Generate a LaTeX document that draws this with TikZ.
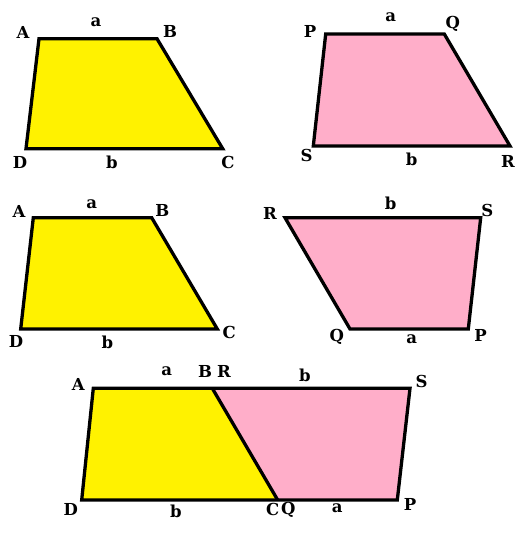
\documentclass[tikz,border=0pt]{standalone}
\usepackage{fontspec}
\setmainfont{DejaVu Serif}
\begin{document}
\begin{tikzpicture}[x=1pt,y=-1pt,
  edge/.style={draw=black,line width=3.3pt,line join=miter},
  yel/.style={fill=yellowfill},
  pnk/.style={fill=pinkfill},
  lbl/.style={font=\fontsize{16.5}{19}\selectfont\bfseries,inner sep=0pt}]
\definecolor{yellowfill}{RGB}{255,242,0}
\definecolor{pinkfill}{RGB}{255,174,201}
\useasboundingbox (0,0) rectangle (525,539);
% ---- top left
\coordinate (A1) at (39,38.7);
\coordinate (B1) at (157,38.7);
\coordinate (C1) at (222.7,148.7);
\coordinate (D1) at (26,148.7);
\draw[edge,yel] (A1) -- (B1) -- (C1) -- (D1) -- cycle;
\node[lbl] (lA1) at (23,32) {A};
\node[lbl] (la1) at (96,22) {a};
\node[lbl] (lB1) at (170,31) {B};
\node[lbl] (lD1) at (20,162) {D};
\node[lbl] (lb1) at (112,162) {b};
\node[lbl] (lC1) at (228,162) {C};
% ---- top right
\coordinate (P1) at (325.7,34);
\coordinate (Q1) at (444.3,34);
\coordinate (R1) at (510,146);
\coordinate (S1) at (313.3,146);
\draw[edge,pnk] (P1) -- (Q1) -- (R1) -- (S1) -- cycle;
\node[lbl] (lP1) at (310,31) {P};
\node[lbl] (la2) at (390.7,17) {a};
\node[lbl] (lQ1) at (452.7,24) {Q};
\node[lbl] (lS1) at (306.7,155) {S};
\node[lbl] (lb2) at (411.7,159) {b};
\node[lbl] (lR1) at (508,161) {R};
% ---- middle left
\coordinate (A2) at (33.3,217.7);
\coordinate (B2) at (151.7,217.7);
\coordinate (C2) at (217.3,329);
\coordinate (D2) at (20.7,329);
\draw[edge,yel] (A2) -- (B2) -- (C2) -- (D2) -- cycle;
\node[lbl] (lA2) at (19,211) {A};
\node[lbl] (la3) at (91.7,204) {a};
\node[lbl] (lB2) at (162.3,210) {B};
\node[lbl] (lD2) at (16,341) {D};
\node[lbl] (lb3) at (107.3,342) {b};
\node[lbl] (lC2) at (229.3,332) {C};
% ---- middle right
\coordinate (R2) at (285,217.7);
\coordinate (S2) at (480.7,217.7);
\coordinate (P2) at (468.3,329);
\coordinate (Q2) at (350,329);
\draw[edge,pnk] (R2) -- (S2) -- (P2) -- (Q2) -- cycle;
\node[lbl] (lR2) at (270,213) {R};
\node[lbl] (lb4) at (390.7,203) {b};
\node[lbl] (lS2) at (487.3,210.7) {S};
\node[lbl] (lQ2) at (336.7,336.7) {Q};
\node[lbl] (la4) at (411.7,339) {a};
\node[lbl] (lP2) at (480.7,335) {P};
% ---- bottom combined
\coordinate (A3) at (93.3,388.3);
\coordinate (B3) at (212.3,388.3);
\coordinate (S3) at (410,388.3);
\coordinate (P3) at (397.3,500);
\coordinate (C3) at (277.7,500);
\coordinate (D3) at (81.7,500);
\fill[yel] (A3) -- (B3) -- (C3) -- (D3) -- cycle;
\fill[pnk] (B3) -- (S3) -- (P3) -- (C3) -- cycle;
\draw[edge] (A3) -- (S3) -- (P3) -- (D3) -- cycle;
\draw[edge] (B3) -- (C3);
\node[lbl] (lA3) at (78.3,384) {A};
\node[lbl] (la5) at (166.7,371.5) {a};
\node[lbl] (lB3) at (205,371.7) {B};
\node[lbl] (lR3) at (224,371.7) {R};
\node[lbl] (lb5) at (305,375) {b};
\node[lbl] (lS3) at (421.7,381.7) {S};
\node[lbl] (lD3) at (70.7,509.5) {D};
\node[lbl] (lb6) at (176,511.5) {b};
\node[lbl] (lC3) at (272.7,509.5) {C};
\node[lbl] (lQ3) at (288.3,509.5) {Q};
\node[lbl] (la6) at (337.3,508) {a};
\node[lbl] (lP3) at (410,504.5) {P};
\end{tikzpicture}
\end{document}
